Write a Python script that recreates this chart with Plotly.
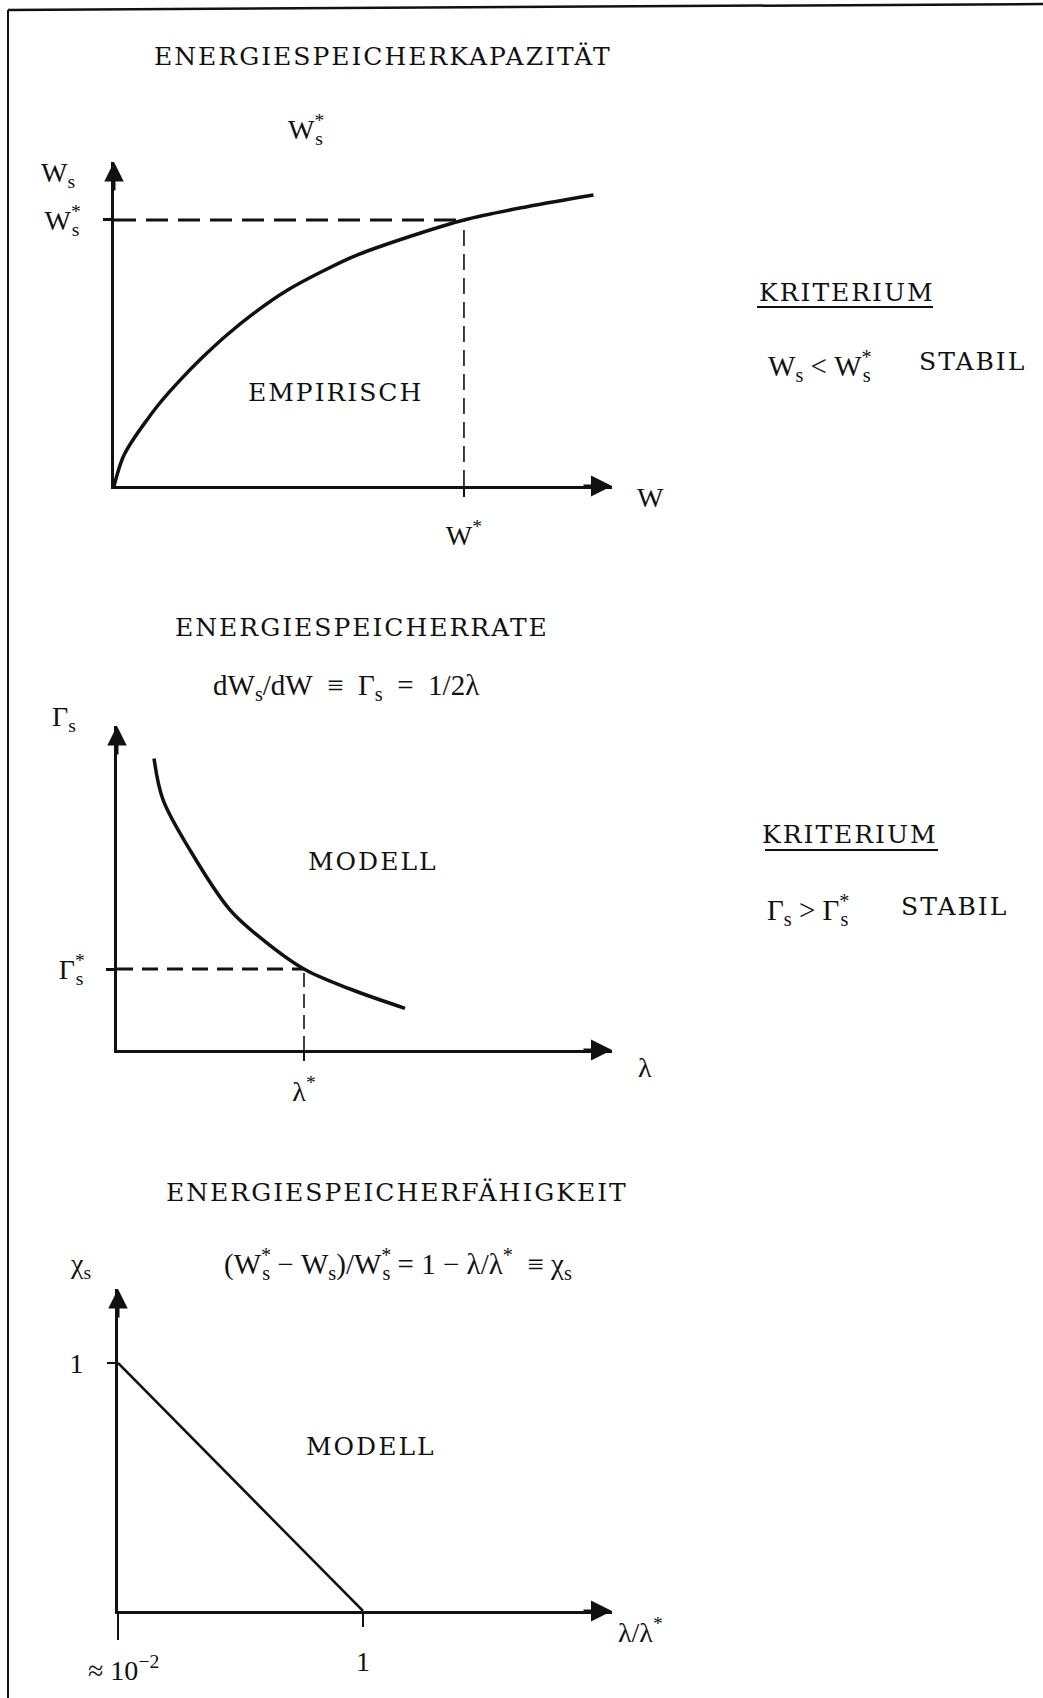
import plotly.graph_objects as go

# Panel 1: Energiespeicherkapazitaet (empirisch), W in Einheiten von W*, W_s in Einheiten von W_s*
kap_w = [0, 0.026, 0.054, 0.094, 0.131, 0.189, 0.25, 0.32, 0.40, 0.494, 0.60, 0.694, 0.85, 1.0, 1.18, 1.37]
kap_ws = [0, 0.109, 0.173, 0.248, 0.312, 0.398, 0.48, 0.565, 0.65, 0.735, 0.81, 0.868, 0.94, 1.0, 1.05, 1.094]
w_star = 1.0
ws_star = 1.0

# Panel 2: Energiespeicherrate (Modell), lambda in Einheiten von lambda*, Gamma_s in Einheiten von Gamma_s*
rate_lam = [0.198, 0.246, 0.39, 0.604, 0.781, 1.0, 1.25, 1.54]
rate_gam = [3.60, 3.09, 2.47, 1.73, 1.36, 1.0, 0.75, 0.515]
lam_star = 1.0
gam_star = 1.0

# Panel 3: Energiespeicherfaehigkeit (Modell)
fae_lam = [0.01, 1.0]
fae_chi = [1.0, 0.0]
fae_xticks = [0.01, 1.0]
fae_yticks = [1.0]

W, H = 1043, 1698
TYPE = "DejaVu Serif, serif"
SERIF = "Liberation Serif, Times New Roman, serif"
INK = "#111111"
MS = 29  # size of the formula text


def ss(base, sup="", sub="", ls=-9):
    # letter with stacked superscript / subscript
    return (f"{base}<sup><span style='letter-spacing:{ls}px'>{sup}</span></sup>"
            f"<sub>{sub}</sub>")


def tw(s, ls=2):
    # typewriter-like spaced capitals
    return f"<span style='letter-spacing:{ls}px'>{s}</span>"


def px(x, y):
    return x / W, 1 - y / H


def axis(dom, rng, **kw):
    d = dict(domain=dom, range=rng, showline=True, linewidth=3, linecolor=INK,
             showgrid=False, zeroline=False, ticks="outside", tickcolor=INK,
             tickwidth=2, ticklen=8, fixedrange=True,
             tickfont=dict(family=SERIF, size=28, color=INK))
    d.update(kw)
    return d


fig = go.Figure()

curve = dict(color=INK, width=3.5, shape="spline", smoothing=1)
# panel 1
fig.add_trace(go.Scatter(x=kap_w, y=kap_ws, mode="lines", line=curve, xaxis="x", yaxis="y"))
fig.add_trace(go.Scatter(x=[0, w_star], y=[ws_star, ws_star], mode="lines",
                         line=dict(color=INK, width=3, dash="22px,10px"), xaxis="x", yaxis="y"))
fig.add_trace(go.Scatter(x=[w_star, w_star], y=[0, ws_star], mode="lines",
                         line=dict(color=INK, width=1.6, dash="16px,8px"), xaxis="x", yaxis="y"))
# panel 2
fig.add_trace(go.Scatter(x=rate_lam, y=rate_gam, mode="lines", line=curve, xaxis="x2", yaxis="y2"))
fig.add_trace(go.Scatter(x=[0, lam_star], y=[gam_star, gam_star], mode="lines",
                         line=dict(color=INK, width=3, dash="16px,9px"), xaxis="x2", yaxis="y2"))
fig.add_trace(go.Scatter(x=[lam_star, lam_star], y=[0, gam_star], mode="lines",
                         line=dict(color=INK, width=1.6, dash="14px,7px"), xaxis="x2", yaxis="y2"))
# panel 3
fig.add_trace(go.Scatter(x=fae_lam, y=fae_chi, mode="lines", line=dict(color=INK, width=2.5),
                         xaxis="x3", yaxis="y3"))

fig.update_layout(
    width=W, height=H, margin=dict(l=0, r=0, t=0, b=0),
    paper_bgcolor="white", plot_bgcolor="rgba(0,0,0,0)", showlegend=False,
    xaxis=axis([114 / W, 612 / W], [0, 1.423], anchor="y", tickvals=[w_star],
               ticktext=["W<sup>*</sup>"], tickwidth=1.6, ticklabelstandoff=14),
    yaxis=axis([1 - 486 / H, 1 - 162 / H], [0, 1.218], anchor="x", tickvals=[ws_star],
               ticktext=[ss("W", "*", "s")], tickwidth=3, ticklabelstandoff=18),
    xaxis2=axis([117 / W, 612 / W], [0, 2.647], anchor="y2", tickvals=[lam_star],
                ticktext=["λ<sup>*</sup>"], tickwidth=1.6, ticklabelstandoff=6),
    yaxis2=axis([1 - 1050 / H, 1 - 726 / H], [0, 4.0], anchor="x2", tickvals=[gam_star],
                ticktext=[ss("Γ", "*", "s")], tickwidth=3, ticklabelstandoff=17),
    xaxis3=axis([118 / W, 612 / W], [0.01, 2.006], anchor="y3", tickvals=fae_xticks,
                ticktext=["", "1"], ticklen=13, ticklabelstandoff=10,
                minor=dict(tickvals=[fae_xticks[0]], ticks="outside", ticklen=26,
                           tickwidth=2, tickcolor=INK)),
    yaxis3=axis([1 - 1611 / H, 1 - 1289 / H], [0, 1.298], anchor="x3", tickvals=fae_yticks,
                ticktext=["1"], ticklabelstandoff=18),
)

ann = []
# axis arrowheads
for i in ["", "2", "3"]:
    ann.append(dict(x=1, y=0, xref=f"x{i} domain", yref=f"y{i} domain", ax=-30, ay=0,
                    showarrow=True, arrowhead=2, arrowsize=1.4, arrowwidth=3, arrowcolor=INK,
                    text=""))
    ann.append(dict(x=0, y=1, xref=f"x{i} domain", yref=f"y{i} domain", ax=0, ay=30,
                    showarrow=True, arrowhead=2, arrowsize=1.3, arrowwidth=3, arrowcolor=INK,
                    text=""))


def text(x, y, s, font=TYPE, size=25, **kw):
    xp, yp = px(x, y)
    d = dict(x=xp, y=yp, xref="paper", yref="paper", text=s, showarrow=False,
             font=dict(family=font, size=size, color=INK), xanchor="center", yanchor="middle")
    d.update(kw)
    ann.append(d)


# titles and free labels
text(383, 56, tw("ENERGIESPEICHERKAPAZITÄT"))
text(362, 628, tw("ENERGIESPEICHERRATE"))
text(397, 1192, tw("ENERGIESPEICHERFÄHIGKEIT"))
text(335, 393, tw("EMPIRISCH"))
text(373, 861, tw("MODELL"))
text(371, 1446, tw("MODELL"))

nb = "\u00a0"
text(305, 130, ss("W", "*", "s"), SERIF, 28)
text(58, 175, "W<sub>s</sub>", SERIF, 28)
text(650, 498, "W", SERIF, 28)
text(64, 718, "Γ<sub>s</sub>", SERIF, 28)
text(645, 1067, "λ", SERIF, 28)
text(80, 1265, "χ<sub>s</sub>", SERIF, 28)
text(640, 1630, "λ/λ<sup>*</sup>", SERIF, 28)
text(123, 1668, f"≈{nb}10<sup>−2</sup>", SERIF, 28)

text(346, 687, f"dW<sub>s</sub>/dW{nb}{nb}≡{nb}{nb}Γ<sub>s</sub>{nb}{nb}={nb}{nb}1/2λ", SERIF, MS)
text(398, 1264, "(" + ss("W", "*", "s") + f"{nb}−{nb}W<sub>s</sub>)/" + ss("W", "*", "s")
     + f"{nb}={nb}1{nb}−{nb}λ/λ<sup>*</sup>{nb}{nb}≡{nb}χ<sub>s</sub>", SERIF, MS)

# Kriterien
text(847, 292, tw("KRITERIUM"))
text(820, 366, f"W<sub>s</sub>{nb}<{nb}" + ss("W", "*", "s"), SERIF, MS)
text(972, 362, tw("STABIL"))
text(850, 835, tw("KRITERIUM"))
text(808, 910, f"Γ<sub>s</sub>{nb}>{nb}" + ss("Γ", "*", "s"), SERIF, MS)
text(954, 906, tw("STABIL"))

fig.update_layout(annotations=ann)

shapes = [
    # page frame (top and left edge of the scanned sheet)
    dict(type="line", xref="paper", yref="paper", x0=8 / W, y0=1 - 10 / H, x1=1, y1=1 - 4 / H,
         line=dict(color=INK, width=2.5)),
    dict(type="line", xref="paper", yref="paper", x0=8 / W, y0=1 - 10 / H, x1=8 / W, y1=0,
         line=dict(color=INK, width=2)),
    # underlines
    dict(type="line", xref="paper", yref="paper", x0=757 / W, y0=1 - 307 / H, x1=933 / W,
         y1=1 - 307 / H, line=dict(color=INK, width=2)),
    dict(type="line", xref="paper", yref="paper", x0=765 / W, y0=1 - 850 / H, x1=938 / W,
         y1=1 - 850 / H, line=dict(color=INK, width=2)),
]
fig.update_layout(shapes=shapes)

fig.write_html("out.html", config={"displayModeBar": False},
               post_script="document.body.style.margin='0';")
